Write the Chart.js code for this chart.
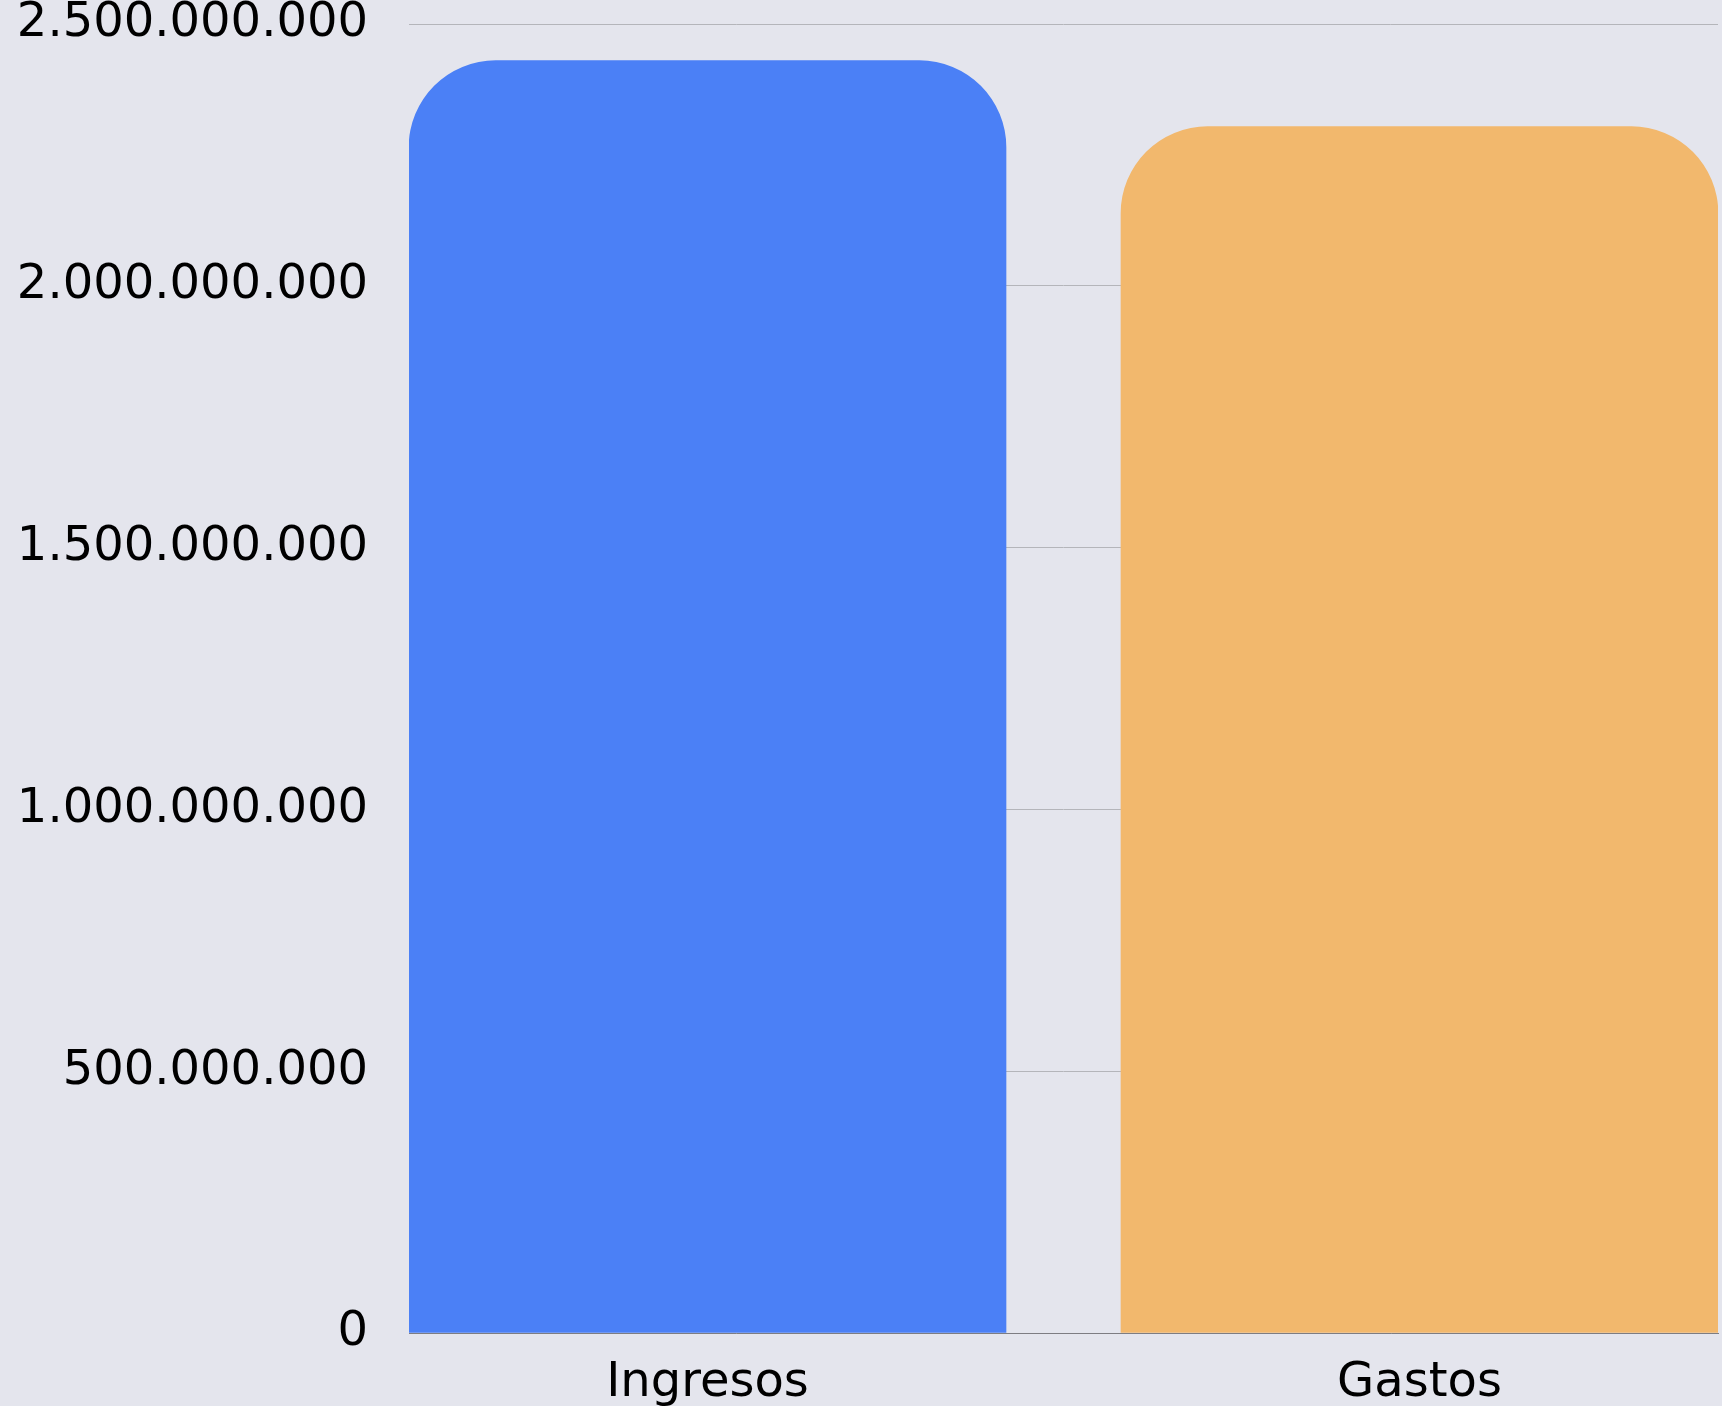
<!DOCTYPE html>
<html>
<head>
<meta charset="utf-8">
<script src="https://cdn.jsdelivr.net/npm/chart.js@4"></script>
<style>
  html, body { margin: 0; padding: 0; background: #e4e5ed; overflow: hidden; }
  #wrap { width: 1722px; height: 1406px; }
</style>
</head>
<body>
<div id="wrap"><canvas id="chart"></canvas></div>
<script>
// Data
const categories = ['Ingresos', 'Gastos'];
const values = [2430000000, 2304000000];
const colors = ['#4b80f6', '#f2b86d'];
const yTicks = [0, 500000000, 1000000000, 1500000000, 2000000000, 2500000000];

function fmt(v) {
    return String(Math.round(v)).replace(/\B(?=(\d{3})+(?!\d))/g, '.');
}

const font = { family: '"DejaVu Sans", sans-serif', size: 48 };

new Chart(document.getElementById('chart'), {
    type: 'bar',
    data: {
        datasets: [{
            data: values.map((v, i) => ({ x: i, y: v })),
            backgroundColor: colors,
            borderWidth: 0,
            borderRadius: { topLeft: 87, topRight: 87, bottomLeft: 0, bottomRight: 0 },
            borderSkipped: 'start',
            barThickness: 597
        }]
    },
    options: {
        responsive: true,
        maintainAspectRatio: false,
        animation: false,
        layout: { padding: { top: 24, right: 4, left: 0, bottom: 0 } },
        plugins: { legend: { display: false }, tooltip: { enabled: false } },
        scales: {
            x: {
                type: 'linear',
                offset: false,
                min: -0.41924,
                max: 1.41924,
                grid: { display: false, drawTicks: false },
                border: { display: true, color: '#7d7d82', width: 1 },
                afterBuildTicks: s => { s.ticks = categories.map((c, i) => ({ value: i })); },
                afterFit: s => { s.height = 73; },
                ticks: {
                    color: '#000',
                    font: font,
                    padding: 22,
                    maxRotation: 0,
                    autoSkip: false,
                    callback: v => categories[v]
                }
            },
            y: {
                min: 0,
                max: 2500000000,
                grid: { color: '#b4b5ba', lineWidth: 1, drawTicks: false },
                border: { display: false },
                afterBuildTicks: s => { s.ticks = yTicks.map(v => ({ value: v })); },
                afterFit: s => { s.width = 409; s.paddingTop = 0; s.paddingBottom = 0; },
                ticks: {
                    color: '#000',
                    font: font,
                    padding: 41,
                    callback: v => fmt(v)
                }
            }
        }
    }
});
</script>
</body>
</html>
